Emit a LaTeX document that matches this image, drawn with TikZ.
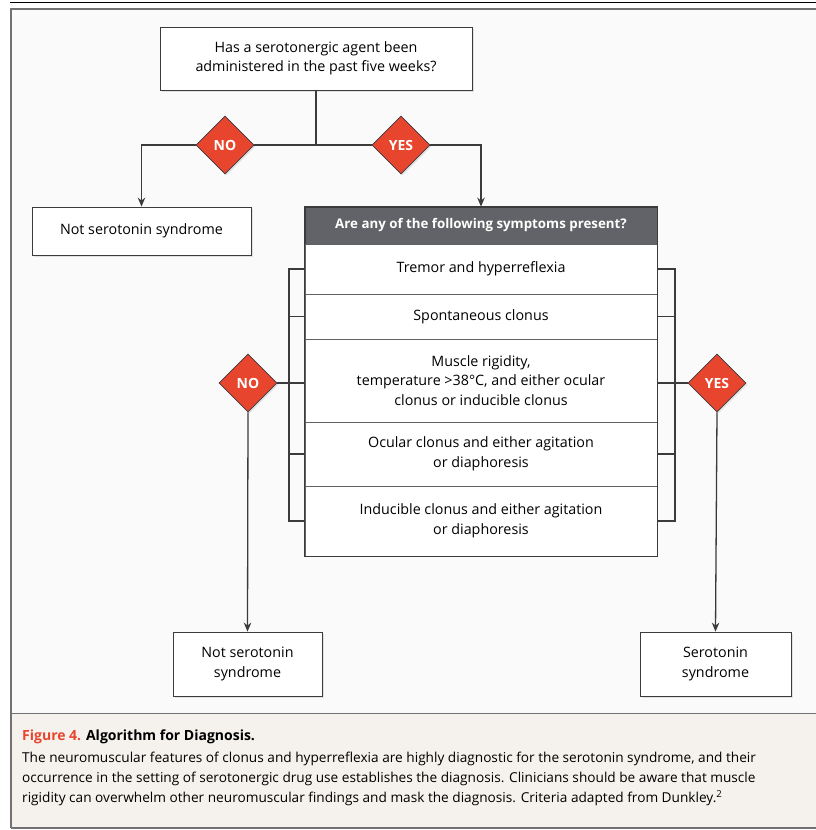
\documentclass[tikz,border=0pt]{standalone}
\usepackage{fontspec}
\setmainfont{Open Sans}
\usepackage{tikz}
\usetikzlibrary{shapes,arrows,arrows.meta,shadows}

\definecolor{nejmred}{HTML}{E8452F}
\definecolor{hdrgray}{HTML}{626368}
\definecolor{linegray}{HTML}{3B3B3E}
\definecolor{panel}{HTML}{FAFAFA}
\definecolor{capbg}{HTML}{F5F2ED}
\definecolor{framegray}{HTML}{727275}

\begin{document}
\begin{tikzpicture}[x=1pt,y=-1pt,>={Stealth[length=9pt,width=7.5pt]},draw=linegray]
	\fontsize{14.3}{19.5}\selectfont
	\def \question{58.5}
	\def \split{145}
	\def \header{225.5}
	\def \middle{383}
	\def \outcome{664}
	\def \lbrk{289}
	\def \rbrk{675}

	\tikzstyle{q-box}=[rectangle,draw=linegray,fill=white,line width=0.8pt,inner sep=0pt,align=center,
		drop shadow={shadow xshift=1.5pt,shadow yshift=-1.5pt,opacity=0.2}]
	\tikzstyle{h-box}=[rectangle,draw=linegray,fill=hdrgray,text=white,line width=0.8pt,inner sep=0pt,
		minimum width=352,minimum height=37,font=\fontsize{13.3}{16}\selectfont\bfseries]
	\tikzstyle{s-row}=[rectangle,draw=linegray!80,fill=white,line width=0.8pt,inner sep=0pt,
		minimum width=352,align=center]
	\tikzstyle{ans}=[diamond,aspect=1,draw=linegray,fill=nejmred,text=white,line width=0.8pt,inner sep=0pt,
		minimum width=58,minimum height=58,font=\fontsize{14}{14}\selectfont\bfseries,
		drop shadow={shadow xshift=1.5pt,shadow yshift=-1.5pt,opacity=0.2}]
	\tikzstyle{conn}=[line width=1.3pt,draw=linegray]
	\tikzstyle{arr}=[conn,->]

	\useasboundingbox (0,0) rectangle (816,830);

	% frame
	\fill[panel] (11,9) rectangle (830,713);
	\fill[capbg] (11,713) rectangle (830,827);
	\draw[black,line width=1.2pt] (10,2.5) -- (830,2.5);
	\draw[framegray,line width=2pt] (10,8.5) -- (830,8.5);
	\draw[framegray,line width=2pt] (11,8) -- (11,828);
	\draw[framegray,line width=1.6pt] (11,713.5) -- (830,713.5);
	\draw[framegray,line width=2pt] (11,827.5) -- (830,827.5);

	% first question
	\node[q-box,minimum width=312,minimum height=63] (agent) at (316,\question)
		{Has a serotonergic agent been\\administered in the past five weeks?};
	\coordinate (fork) at (316,\split);
	\node[ans] (no1)  at (225,\split) {NO};
	\node[ans] (yes1) at (401,\split) {YES};
	\node[q-box,minimum width=219,minimum height=48] (notss1) at (141.5,231) {Not serotonin syndrome};

	% symptom list
	\node[h-box] (symp) at (481,\header) {Are any of the following symptoms present?};
	\node[s-row,minimum height=50] (r1) at (481,269)   {Tremor and hyperreflexia};
	\node[s-row,minimum height=45] (r2) at (481,316.5) {Spontaneous clonus};
	\node[s-row,minimum height=83] (r3) at (481,380.5) {Muscle rigidity,\\temperature >38°C, and either ocular\\clonus or inducible clonus};
	\node[s-row,minimum height=64] (r4) at (481,454)   {Ocular clonus and either agitation\\or diaphoresis};
	\node[s-row,minimum height=70] (r5) at (481,521)   {Inducible clonus and either agitation\\or diaphoresis};
	\draw[linegray,line width=0.8pt] (symp.north west) rectangle (r5.south east);

	\coordinate (lb) at (\lbrk,\middle);
	\coordinate (rb) at (\rbrk,\middle);
	\node[ans] (no2)  at (248,\middle) {NO};
	\node[ans] (yes2) at (717,\middle) {YES};

	% outcomes
	\node[q-box,minimum width=149,minimum height=64] (notss2) at (247.5,\outcome) {Not serotonin\\syndrome};
	\node[q-box,minimum width=151,minimum height=64] (ss) at (715.5,\outcome) {Serotonin\\syndrome};

	\draw[conn] (agent.south) -- (fork);
	\draw[conn] (fork) -- (no1.east);
	\draw[conn] (fork) -- (yes1.west);
	\draw[arr] (no1.west) -| (notss1.north);
	\draw[arr] (yes1.east) -| (symp.north);

	\draw[conn] (r1.west) -| (lb |- r5.west) -- (r5.west);
	\draw[conn] (r1.east) -| (rb |- r5.east) -- (r5.east);
	\foreach \r in {r2,r4} {
		\draw[conn] (\r.west) -- (\r.west -| lb);
		\draw[conn] (\r.east) -- (\r.east -| rb);
	}
	\draw[conn] (no2.east) -- (r3.west |- no2.east);
	\draw[conn] (yes2.west) -- (r3.east |- yes2.west);
	\draw[arr] (no2.south) -- (notss2.north);
	\draw[arr] (yes2.south) -- (ss.north);

	% caption
	\node[anchor=west,inner sep=0pt,font=\fontsize{14}{16}\selectfont\bfseries] (captitle) at (22,737)
		{\textcolor{nejmred}{Figure 4.} Algorithm for Diagnosis.};
	\node[anchor=north west,inner sep=0pt,align=left,font=\fontsize{13.65}{20}\selectfont] (capbody) at (22,752)
		{The neuromuscular features of clonus and hyperreflexia are highly diagnostic for the serotonin syndrome, and their\\
		occurrence in the setting of serotonergic drug use establishes the diagnosis. Clinicians should be aware that muscle\\
		rigidity can overwhelm other neuromuscular findings and mask the diagnosis. Criteria adapted from Dunkley.\textsuperscript{2}};
\end{tikzpicture}
\end{document}
